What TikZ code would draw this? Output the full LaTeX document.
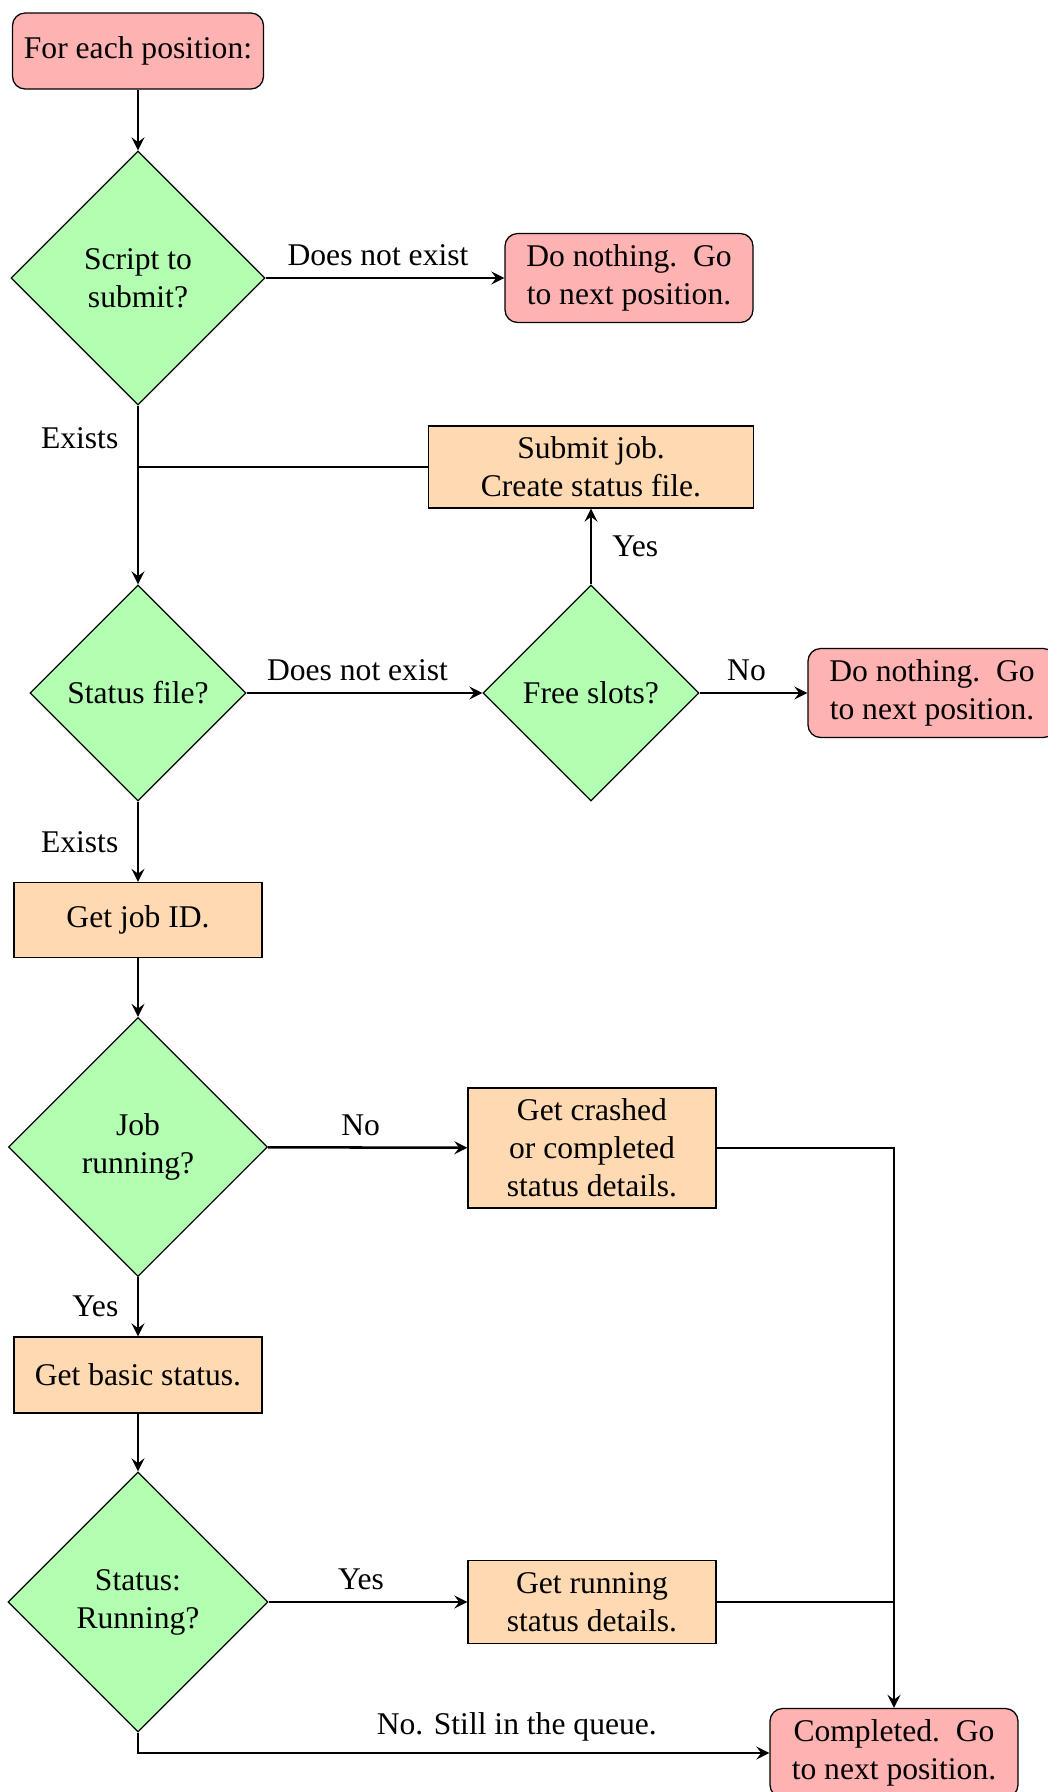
\documentclass[tikz,border=0pt]{standalone}
\usepackage{fontspec}
\setmainfont{Liberation Serif}
\usetikzlibrary{shapes.geometric,arrows}
% one drawing unit
\def\pxu{0.3165pt}

\tikzset{
  startstop/.style={rectangle, rounded corners, draw=black, fill=red!30, align=center, inner sep=0pt},
  process/.style={rectangle, draw=black, fill=orange!30, align=center, inner sep=0pt},
  decision/.style={diamond, aspect=1, draw=black, fill=green!30, align=center, inner sep=0pt},
  arrow/.style={thick, ->, >=stealth},
  link/.style={thick},
  toplabel/.style={above, xshift=-7*\pxu},
}

\begin{document}
\begin{tikzpicture}[x=\pxu, y=-\pxu]
\useasboundingbox (0,0) rectangle (1048,1792);
\clip (0,0) rectangle (1048,1792);

% nodes
\node[startstop, minimum width=251*\pxu, minimum height=76*\pxu] (start) at (138,51) {For each position:};
\node[decision, minimum size=254*\pxu] (script) at (138,278) {Script to\\submit?};
\node[startstop, minimum width=248*\pxu, minimum height=89*\pxu] (none1) at (629,278) {Do nothing.\ \ Go\\to next position.};
\node[process, minimum width=325*\pxu, minimum height=82*\pxu] (submit) at (591,467) {Submit job.\\Create status file.};
\coordinate (join) at (138,467);
\node[decision, minimum size=216*\pxu] (status) at (138,693) {Status file?};
\node[decision, minimum size=216*\pxu] (slots) at (591,693) {Free slots?};
\node[startstop, minimum width=248*\pxu, minimum height=89*\pxu] (none2) at (932,693) {Do nothing.\ \ Go\\to next position.};
\node[process, minimum width=248*\pxu, minimum height=75*\pxu] (jobid) at (138,920) {Get job ID.};
\node[decision, minimum size=259*\pxu] (running) at (138,1147) {Job\\running?};
\node[process, minimum width=248*\pxu, minimum height=120*\pxu] (crashed) at (592,1148) {Get crashed\\or completed\\status details.};
\node[process, minimum width=248*\pxu, minimum height=76*\pxu] (basic) at (138,1375) {Get basic status.};
\node[decision, minimum size=260*\pxu] (isrun) at (138,1602) {Status:\\Running?};
\node[process, minimum width=248*\pxu, minimum height=83*\pxu] (details) at (592,1602) {Get running\\status details.};
\node[startstop, minimum width=248*\pxu, minimum height=89*\pxu] (done) at (894,1753) {Completed.\ \ Go\\to next position.};

% connectors
\draw[arrow] (start) -- (script);
\draw[arrow] (script) -- node[toplabel] {Does not exist} (none1);
\draw[arrow] (script.south) -- node[left=2.5pt, pos=0.18] {Exists} (status.north);
\draw[link] (submit.west) -- (join);
\draw[arrow] (status) -- node[toplabel] {Does not exist} (slots);
\draw[arrow] (slots) -- node[right=3pt] {Yes} (submit);
\draw[arrow] (slots) -- node[toplabel] {No} (none2);
\draw[arrow] (status) -- node[left=2.5pt] {Exists} (jobid);
\draw[arrow] (jobid) -- (running);
\draw[arrow] (running) -- node[toplabel] {No} (crashed);
\draw[arrow] (running) -- node[left=2.5pt] {Yes} (basic);
\draw[arrow] (basic) -- (isrun);
\draw[arrow] (isrun) -- node[toplabel] {Yes} (details);
\draw[arrow] (crashed.east) -| (done.north);
\draw[link] (details.east) -- (details.east -| done.north);
\draw[arrow] (isrun.south) |- node[above, pos=0.8] {No. Still in the queue.} (done.west);
\end{tikzpicture}
\end{document}
